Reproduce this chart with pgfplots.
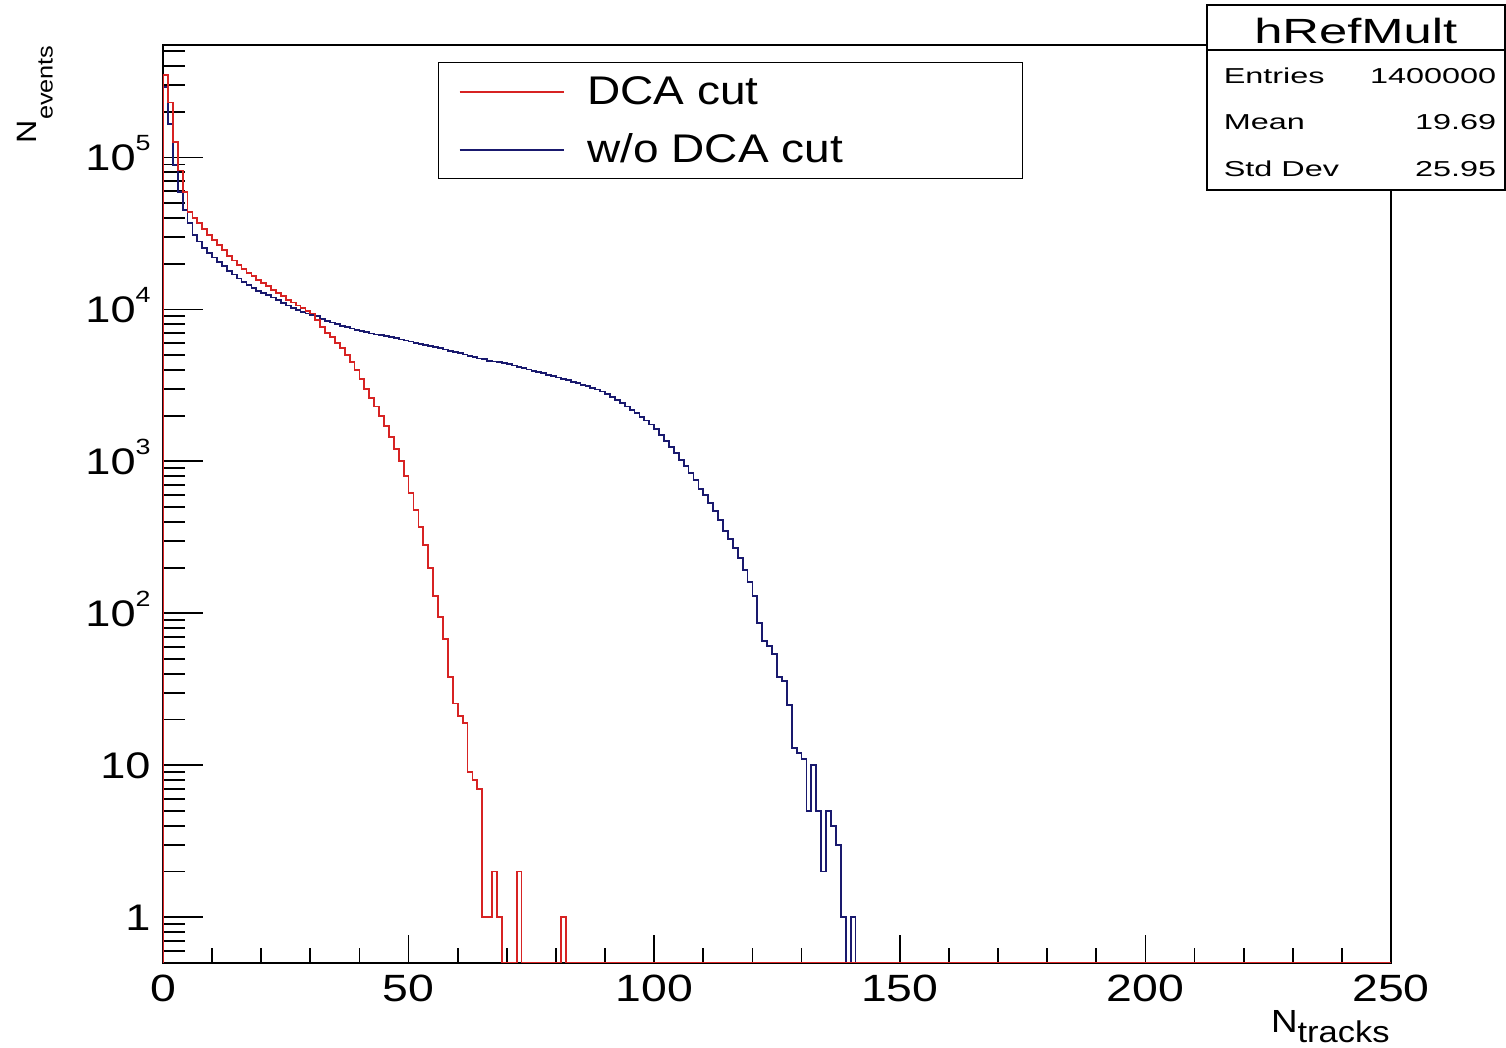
\documentclass[border=0pt]{standalone}
\usepackage{fontspec}
\setmainfont{Liberation Sans}
\usepackage{pgfplots}
\pgfplotsset{compat=1.18}
\newfontfamily\tickfont[FakeStretch=1.22]{Liberation Sans}
\newfontfamily\legfont[FakeStretch=1.15]{Liberation Sans}
\newfontfamily\statfont[FakeStretch=1.5]{Liberation Sans}
\newfontfamily\titfont[FakeStretch=1.45]{Liberation Sans}
\newfontfamily\labfont[FakeStretch=1.15]{Liberation Sans}
\definecolor{hred}{RGB}{215,35,35}
\definecolor{hblue}{RGB}{25,25,110}
\newcommand\pw[1]{10\raisebox{10pt}{\fontsize{11}{11}\selectfont #1}}
\begin{document}
\begin{tikzpicture}
\path[use as bounding box] (-81.5pt,-42.5pt) rectangle (671.5pt,481.5pt);
\begin{axis}[
  at={(0pt,0pt)}, anchor=south west,
  scale only axis, width=614pt, height=459pt,
  xmin=0, xmax=250, ymin=0.5, ymax=550000, ymode=log,
  axis line style={line width=0.9pt},
  xtick={0,50,100,150,200,250}, minor x tick num=4,
  ytick={1,10,100,1000,10000,100000},
  yticklabels={1,10,\pw{2},\pw{3},\pw{4},\pw{5}},
  minor ytick={0.6,0.7,0.8,0.9,2,3,4,5,6,7,8,9,20,30,40,50,60,70,80,90,200,300,400,500,600,700,800,900,2000,3000,4000,5000,6000,7000,8000,9000,20000,30000,40000,50000,60000,70000,80000,90000,200000,300000,400000,500000},
  xtick pos=bottom, ytick pos=left, tick align=inside,
  tick style={line width=0.9pt, black},
  xtick style={/pgfplots/major tick length=14pt, /pgfplots/minor tick length=7.5pt},
  ytick style={/pgfplots/major tick length=20pt, /pgfplots/minor tick length=11pt},
  /pgf/number format/assume math mode=true,
  xticklabel style={font=\tickfont\fontsize{19}{20}\selectfont, anchor=north, inner sep=0pt, yshift=-6pt},
  yticklabel style={font=\tickfont\fontsize{18.5}{20}\selectfont, anchor=base east, inner sep=0pt, xshift=-6pt, yshift=-6.6pt},
  legend style={at={(0.2239,0.9815)}, anchor=north west, draw=black, line width=0.7pt,
    font=\legfont\fontsize{20}{22}\selectfont, inner xsep=10pt, inner ysep=6pt, row sep=12pt,
    column sep=0pt,
    nodes={inner sep=0pt, text height=15pt, text depth=2pt}},
  legend cell align=left,
  legend image code/.code={\draw[#1, line width=0.9pt] (0pt,0pt) -- (52pt,0pt);},
  reverse legend,
]
\addplot[const plot, hblue, line width=0.9pt] coordinates {
(0,0.5) (0,290000) (1,167000) (2,89000) (3,59000) (4,45000) (5,37000) (6,31000) (7,28000) (8,25500) (9,23500)
(10,22000) (11,20500) (12,19200) (13,18000) (14,17000) (15,16000) (16,15100) (17,14400) (18,13800) (19,13300)
(20,12800) (21,12400) (22,12000) (23,11500) (24,11000) (25,10600) (26,10200) (27,9900) (28,9600) (29,9400)
(30,9200) (31,9000) (32,8700) (33,8400) (34,8200) (35,8000) (36,7800) (37,7650) (38,7500) (39,7350)
(40,7200) (41,7100) (42,6950) (43,6850) (44,6750) (45,6650) (46,6550) (47,6450) (48,6350) (49,6250)
(50,6150) (51,6050) (52,5950) (53,5850) (54,5750) (55,5650) (56,5550) (57,5450) (58,5350) (59,5250)
(60,5150) (61,5050) (62,4950) (63,4850) (64,4750) (65,4700) (66,4600) (67,4550) (68,4500) (69,4420)
(70,4350) (71,4280) (72,4200) (73,4120) (74,4030) (75,3950) (76,3880) (77,3800) (78,3720) (79,3650)
(80,3570) (81,3500) (82,3420) (83,3350) (84,3270) (85,3200) (86,3120) (87,3050) (88,2970) (89,2880)
(90,2780) (91,2660) (92,2540) (93,2420) (94,2300) (95,2180) (96,2070) (97,1960) (98,1860) (99,1750)
(100,1630) (101,1500) (102,1370) (103,1250) (104,1130) (105,1020) (106,930) (107,840) (108,750) (109,660)
(110,600) (111,530) (112,470) (113,410) (114,350) (115,310) (116,270) (117,230) (118,192) (119,160)
(120,130) (121,86) (122,66) (123,61) (124,54) (125,38) (126,36) (127,25) (128,13) (129,12)
(130,11) (131,5) (132,10) (133,5) (134,2) (135,5) (136,4) (137,3) (138,1) (139,0.5)
(140,1) (141,0.5) (250,0.5)
};
\addlegendentry{\makebox[219pt][l]{\hspace{11.5pt}w/o DCA cut}}
\addplot[const plot, hred, line width=0.9pt] coordinates {
(0,0.5) (0,350000) (1,230000) (2,126000) (3,82000) (4,59000) (5,44000) (6,40000) (7,37000) (8,34000) (9,31000)
(10,28500) (11,26500) (12,24500) (13,22500) (14,21000) (15,19700) (16,18500) (17,17400) (18,16500) (19,15600)
(20,14900) (21,14200) (22,13500) (23,12800) (24,12200) (25,11600) (26,11100) (27,10600) (28,10200) (29,9800)
(30,9400) (31,8500) (32,7700) (33,7000) (34,6600) (35,6000) (36,5600) (37,5000) (38,4500) (39,4000)
(40,3500) (41,3000) (42,2600) (43,2300) (44,2000) (45,1700) (46,1450) (47,1200) (48,1000) (49,800)
(50,620) (51,480) (52,370) (53,280) (54,200) (55,130) (56,95) (57,68) (58,38) (59,25.5)
(60,21) (61,19) (62,9) (63,8) (64,7) (65,1) (66,1) (67,2) (68,1) (69,0.5)
(72,2) (73,0.5) (81,1) (82,0.5) (250,0.5)
};
\addlegendentry{\makebox[219pt][l]{\hspace{11.5pt}DCA cut}}
\end{axis}
% statistics box
\filldraw[fill=white, draw=black, line width=0.9pt] (522pt,386.5pt) rectangle (670.8pt,479pt);
\draw[line width=0.9pt] (522pt,456.5pt) -- (670.8pt,456.5pt);
\node[anchor=base, inner sep=0pt, font=\titfont\fontsize{17.5}{18}\selectfont] at (596.4pt,459.8pt) {hRefMult};
\begin{scope}[every node/.style={inner sep=0pt, font=\statfont\fontsize{10.8}{12}\selectfont}]
\node[anchor=base west] at (530.2pt,439.8pt) {Entries};
\node[anchor=base east] at (666.8pt,439.8pt) {1400000};
\node[anchor=base west] at (530.2pt,416.5pt) {Mean};
\node[anchor=base east] at (666.8pt,416.5pt) {19.69};
\node[anchor=base west] at (530.2pt,393.2pt) {Std Dev};
\node[anchor=base east] at (666.8pt,393.2pt) {25.95};
\end{scope}
% axis titles
\node[anchor=base east, inner sep=0pt, font=\labfont\fontsize{16}{18}\selectfont] at (613.5pt,-35pt) {N\raisebox{-5pt}{\fontsize{15}{16}\selectfont tracks}};
\node[rotate=90, anchor=base east, inner sep=0pt, font=\labfont\fontsize{14}{16}\selectfont] at (-63.2pt,459pt) {N\raisebox{-8pt}{\fontsize{11}{12}\selectfont events}};
\end{tikzpicture}
\end{document}
